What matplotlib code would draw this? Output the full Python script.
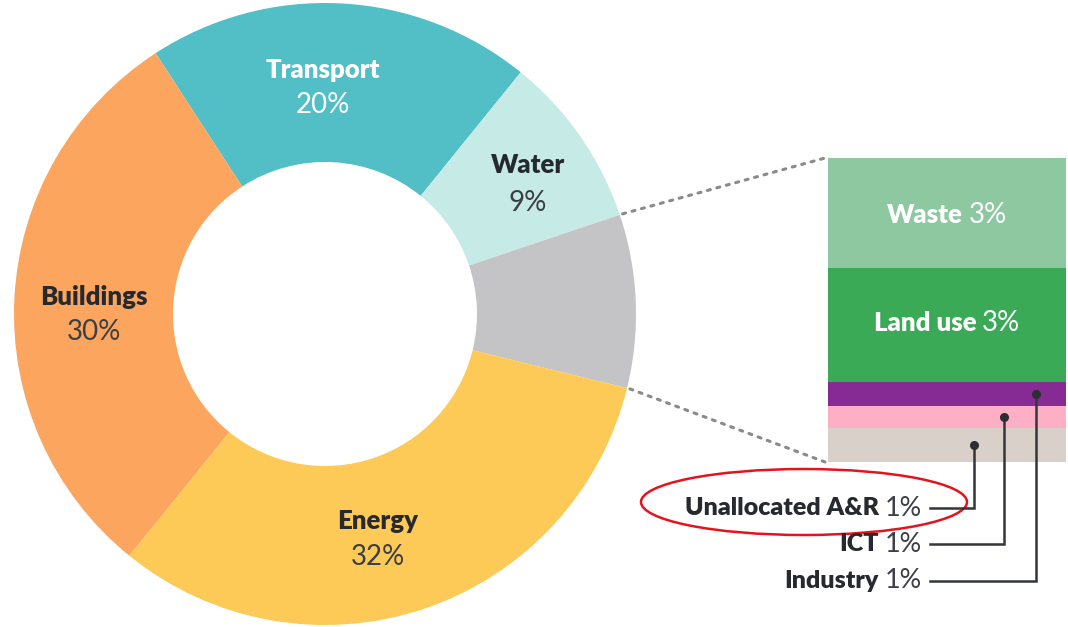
import matplotlib
matplotlib.use('Agg')
import matplotlib.pyplot as plt
from matplotlib.patches import Ellipse
import numpy as np

W, H = 1068, 627
plt.rcParams['font.family'] = ['Lato', 'DejaVu Sans']

# ---- donut data ----
categories = ['Transport', 'Water', 'Other', 'Energy', 'Buildings']
shares = [20, 9, 9, 32, 30]
colors = ['#52BEC5', '#C6EAE6', '#C4C4C6', '#FDC957', '#FBA55F']

# ---- breakdown of "Other" (bottom to top) ----
sub_categories = ['Unallocated A&R', 'ICT', 'Industry', 'Land use', 'Waste']
sub_pct = [1, 1, 1, 3, 3]
sub_bar_sizes = [1.0, 0.65, 0.71, 3.37, 3.25]   # segment heights as drawn
sub_colors = ['#D9D1C9', '#FDAFC6', '#862A94', '#3BAA57', '#8DC8A1']

DARK = '#26292E'
MID = '#3C3F44'
BOLD = 'heavy'
REG = 'normal'
PCT_SCALE = 1.08

fig = plt.figure(figsize=(W / 100, H / 100), dpi=100)
ax = fig.add_axes([0, 0, 1, 1])

cx, cy, R, hole = 325, H - 314, 311, 152
wedges, _ = ax.pie(shares, colors=colors, radius=R, center=(cx, cy),
                   startangle=123, counterclock=False, frame=True,
                   wedgeprops=dict(width=R - hole, linewidth=0))
ax.set_xlim(0, W)
ax.set_ylim(0, H)
ax.set_aspect('equal')
ax.axis('off')

# breakdown bar in an inset axes
bx0, bx1, by_top, by_bot = 828, 1066, 158, 462
bax = fig.add_axes([bx0 / W, (H - by_bot) / H, (bx1 - bx0) / W, (by_bot - by_top) / H])
bottoms = np.concatenate([[0], np.cumsum(sub_bar_sizes)[:-1]])
bax.bar([0.5] * len(sub_bar_sizes), sub_bar_sizes, bottom=bottoms, width=1.0,
        color=sub_colors, linewidth=0)
bax.set_xlim(0, 1)
bax.set_ylim(0, sum(sub_bar_sizes))
bax.axis('off')

renderer = fig.canvas.get_renderer()
to_main = lambda pt: ax.transData.inverted().transform(pt)


def text_width(s, **kw):
    t = ax.text(0, 0, s, **kw)
    w = t.get_window_extent(renderer).width
    t.remove()
    return w


def two_part(target, x, y, bold, reg, color_b, color_r, size, ha='center', gap=6):
    wb = text_width(bold, fontsize=size, fontweight=BOLD)
    wr = text_width(reg, fontsize=size * PCT_SCALE, fontweight=REG)
    total = wb + gap + wr
    x0 = x - total / 2 if ha == 'center' else x - total
    kw = dict(ha='left', va='center', transform=ax.transData, zorder=10,
              clip_on=False)
    target.text(x0, y, bold, fontsize=size, fontweight=BOLD, color=color_b, **kw)
    target.text(x0 + wb + gap, y, reg, fontsize=size * PCT_SCALE, fontweight=REG,
                color=color_r, **kw)


# donut labels
donut_labels = {
    'Transport': ((323, 70), (323, 105), 'white', 'white'),
    'Water': ((528, 165), (528, 203), DARK, MID),
    'Buildings': ((94, 297), (94, 332), DARK, MID),
    'Energy': ((378, 521), (378, 557), DARK, MID),
}
for cat, val in zip(categories, shares):
    if cat not in donut_labels:
        continue
    (lx, ly), (px, pyy), cb, cr = donut_labels[cat]
    ax.text(lx, H - ly, cat, fontsize=18.5, fontweight=BOLD, color=cb,
            ha='center', va='center')
    ax.text(px, H - pyy, f'{val}%', fontsize=18.5 * PCT_SCALE, fontweight=REG,
            color=cr, ha='center', va='center')

# labels inside the big segments
for i, off in ((3, 2), (4, -2)):
    mid = bottoms[i] + sub_bar_sizes[i] / 2
    mx, my = to_main(bax.transData.transform((0.5, mid)))
    two_part(bax, mx, my + off, sub_categories[i], f'{sub_pct[i]}%', 'white',
             'white', 18.5)

# dotted connectors from the grey wedge to the bar
other = wedges[2]
for ang, corner in ((other.theta2, (0, 1)), (other.theta1, (0, 0))):
    a = np.deg2rad(ang)
    sx, sy = cx + (R + 3) * np.cos(a), cy + (R + 3) * np.sin(a)
    ex, ey = to_main(bax.transAxes.transform(corner))
    ax.plot([sx, ex - 3], [sy, ey], linestyle=(0, (1, 2.2)), color='#8A8A8A',
            linewidth=2.2, dash_capstyle='round')

# small-segment callouts
callout_x = [0.613, 0.739, 0.874]
callout_y = [508, 544, 581]
for i in range(3):
    mid = bottoms[i] + sub_bar_sizes[i] / 2
    dx, dy = to_main(bax.transData.transform((callout_x[i], mid)))
    ly = H - callout_y[i]
    bax.plot([930, dx, dx], [ly, ly, dy], color='#33363B', linewidth=1.8,
             zorder=5, solid_joinstyle='miter', transform=ax.transData,
             clip_on=False)
    bax.plot([dx], [dy], 'o', color='#2B2E33', markersize=5.5, zorder=6,
             transform=ax.transData, clip_on=False)
    two_part(ax, 922, ly, sub_categories[i], f'{sub_pct[i]}%', DARK, MID, 18,
             ha='right', gap=6)

# red highlight ellipse
ax.add_patch(Ellipse((804, H - 502), 326, 66, fill=False, edgecolor='#E5131B',
                     linewidth=1.8, zorder=7))

fig.savefig('out.png', dpi=100)
